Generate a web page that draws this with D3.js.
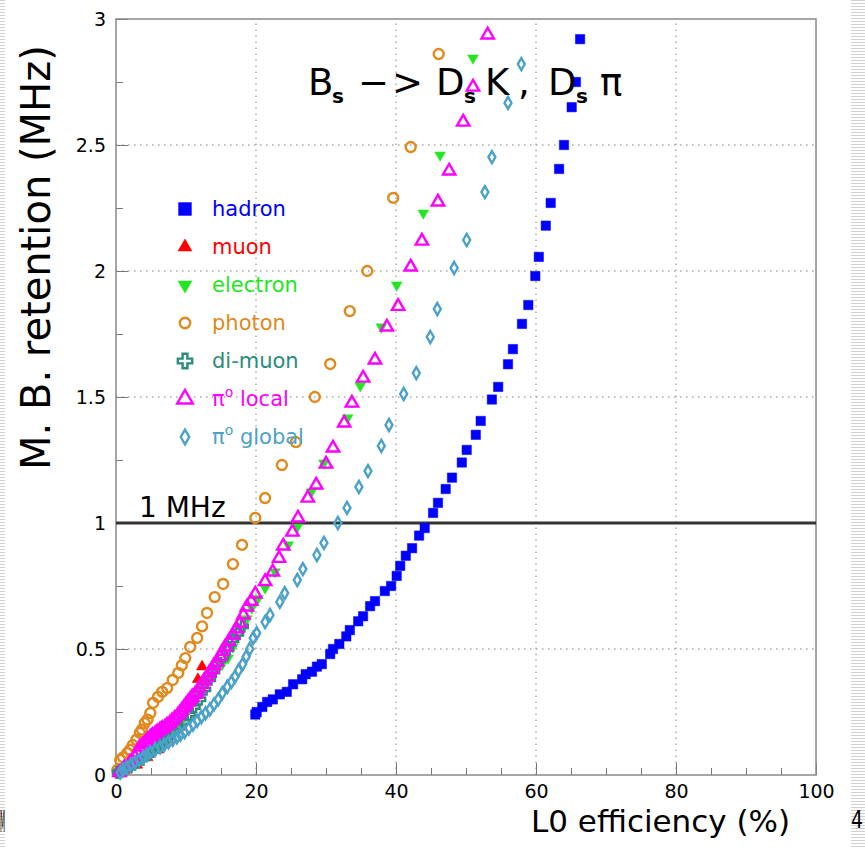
<!DOCTYPE html>
<html>
<head>
  <script src="https://cdn.jsdelivr.net/npm/d3@7/dist/d3.min.js" charset="utf-8"></script>
  <style>
    body { margin: 0; background: #fff; }
    text { font-family: "DejaVu Sans", sans-serif; }
  </style>
</head>
<body>
  <script>

  var width = 865
  var height = 848

  // L0 efficiency (%) vs minimum bias retention (MHz)
  var hadron = [[19.9,0.24],[20.1,0.25],[20.9,0.27],[21.6,0.29],[22.4,0.30],[23.4,0.32],[24.4,0.33],[25.3,0.36],
    [26.6,0.38],[27.1,0.40],[28.0,0.41],[28.7,0.43],[29.4,0.44],[30.6,0.48],[31.0,0.50],[31.9,0.52],[32.9,0.55],
    [33.4,0.575],[34.6,0.61],[35.3,0.63],[36.3,0.67],[37.0,0.69],[38.4,0.73],[39.3,0.75],[40.1,0.79],[40.6,0.83],
    [41.4,0.87],[42.3,0.90],[43.3,0.95],[44.1,0.98],[45.3,1.04],[46.0,1.08],[47.1,1.135],[48.0,1.18],[49.4,1.24],
    [50.1,1.29],[51.4,1.35],[52.1,1.405],[53.7,1.49],[54.6,1.54],[56.0,1.63],[56.7,1.69],[58.0,1.79],[58.9,1.865],
    [59.9,1.98],[60.4,2.056],[61.4,2.18],[62.1,2.27],[63.3,2.405],[64.0,2.50],[65.1,2.65],[65.7,2.75],[66.3,2.92]];

  var muon = [[0.5,0.005],[1.5,0.02],[3.0,0.04],[4.5,0.07],[6.0,0.10],[7.5,0.14],[9.0,0.19],[10.5,0.26],
    [11.7,0.38],[12.3,0.43]];

  var electron = [[0.8,0.01],[1.4,0.02],[2.0,0.03],[2.8,0.045],[3.5,0.06],[4.2,0.075],[5.0,0.09],[5.8,0.11],
    [6.5,0.13],[7.2,0.15],[8.0,0.17],[8.8,0.195],[9.5,0.22],[10.0,0.245],[10.6,0.27],[11.2,0.30],[11.7,0.325],
    [12.4,0.345],[13.0,0.37],[13.6,0.395],[14.3,0.42],[15.2,0.44],[16.0,0.464],[16.7,0.508],[17.3,0.545],
    [18.0,0.58],[18.7,0.62],[19.4,0.663],[20.3,0.70],[21.3,0.742],[22.7,0.806],[24.6,0.913],[25.9,0.984],
    [27.9,1.123],[29.7,1.238],[33.1,1.417],[34.9,1.544],[37.9,1.778],[40.1,1.944],[43.9,2.23],[46.3,2.46],
    [51.0,2.845]];

  var photon = [[0.2,0.02],[0.6,0.06],[1.0,0.07],[1.6,0.087],[2.0,0.10],[2.4,0.119],[2.9,0.14],[3.4,0.167],
    [3.7,0.18],[4.1,0.206],[4.5,0.22],[4.9,0.246],[5.3,0.286],[6.0,0.31],[6.6,0.33],[7.3,0.345],[8.1,0.377],
    [8.9,0.405],[9.4,0.435],[9.9,0.464],[10.6,0.508],[11.6,0.544],[12.3,0.59],[13.0,0.643],[14.1,0.706],
    [15.3,0.758],[16.7,0.837],[18.0,0.913],[19.9,1.02],[21.3,1.099],[23.7,1.23],[25.7,1.321],[28.4,1.50],
    [30.6,1.631],[33.4,1.841],[35.9,2.00],[39.6,2.29],[42.1,2.492],[46.1,2.861]];

  var dimuon = [[0.3,0.01],[0.6,0.015],[1.0,0.02],[1.5,0.028],[2.0,0.035],[2.5,0.042],[3.0,0.05],[3.7,0.062],
    [4.5,0.08],[5.2,0.095],[6.0,0.11],[6.7,0.13],[7.5,0.15],[8.2,0.17],[9.0,0.19],[9.7,0.21],[10.5,0.24],
    [11.2,0.27],[12.0,0.30],[12.7,0.34],[13.4,0.38],[14.0,0.41],[14.5,0.44],[15.3,0.47],[16.0,0.50],
    [16.7,0.535],[17.4,0.56],[18.1,0.59]];

  var pi0local = [[0.5,0.01],[1.2,0.03],[2.0,0.05],[2.7,0.071],[3.0,0.09],[3.4,0.111],[3.8,0.12],[4.2,0.13],
    [4.5,0.14],[4.9,0.151],[5.2,0.158],[5.6,0.165],[5.9,0.172],[6.3,0.179],[6.6,0.185],[7.0,0.19],[7.3,0.198],
    [7.7,0.206],[8.0,0.215],[8.4,0.225],[8.8,0.236],[9.1,0.246],[9.4,0.257],[9.7,0.268],[10.0,0.28],[10.3,0.29],
    [10.6,0.30],[10.9,0.31],[11.3,0.32],[11.6,0.329],[11.9,0.345],[12.3,0.36],[12.6,0.375],[13.0,0.389],
    [13.3,0.405],[13.7,0.42],[14.0,0.435],[14.4,0.448],[14.9,0.47],[15.2,0.49],[15.6,0.508],[16.1,0.53],
    [16.7,0.556],[17.2,0.58],[17.7,0.603],[18.2,0.635],[18.7,0.667],[19.3,0.69],[19.9,0.718],[21.3,0.768],
    [22.4,0.806],[23.3,0.86],[23.9,0.909],[25.2,0.964],[26.0,1.02],[27.4,1.099],[28.6,1.151],[30.0,1.234],
    [31.0,1.298],[32.6,1.397],[33.7,1.476],[35.3,1.575],[37.0,1.647],[38.7,1.778],[40.3,1.86],[42.1,2.016],
    [43.7,2.119],[46.0,2.274],[47.6,2.397],[49.6,2.591],[51.0,2.73],[53.1,2.937]];

  var pi0global = [[0.6,0.01],[1.0,0.02],[1.5,0.03],[2.1,0.04],[2.7,0.05],[3.3,0.06],[3.9,0.07],[4.4,0.08],
    [4.9,0.09],[5.6,0.10],[6.3,0.11],[6.9,0.12],[7.5,0.13],[8.1,0.14],[8.7,0.15],[9.2,0.16],[9.8,0.17],
    [10.4,0.185],[11.0,0.20],[11.6,0.215],[12.2,0.23],[12.8,0.245],[13.4,0.26],[14.0,0.28],[14.6,0.30],
    [15.2,0.325],[15.9,0.35],[16.5,0.37],[17.0,0.39],[17.5,0.415],[18.1,0.44],[18.6,0.47],[19.1,0.50],
    [19.6,0.544],[20.1,0.563],[21.3,0.607],[22.0,0.635],[23.4,0.687],[24.1,0.722],[25.9,0.774],[26.7,0.817],
    [28.7,0.873],[29.7,0.921],[31.7,1.00],[33.0,1.06],[34.7,1.143],[36.0,1.206],[37.9,1.306],[39.0,1.389],
    [41.1,1.512],[42.9,1.595],[44.9,1.738],[45.9,1.849],[48.3,2.012],[50.1,2.123],[52.7,2.313],[53.7,2.452],
    [56.0,2.667],[57.9,2.821]];

  var xTicks = [0, 20, 40, 60, 80, 100];
  var yTicks = [0, 0.5, 1, 1.5, 2, 2.5, 3];

  var series = [
    {name: "hadron",  data: hadron,    color: "#0000ff", shape: d3.symbolSquare,   size: 88, lsize: 165, filled: true},
    {name: "muon",    data: muon,      color: "#ff0000", shape: d3.symbolTriangle, size: 56, lsize: 85,  filled: true},
    {name: "electron",data: electron,  color: "#22e622", shape: d3.symbolTriangle, size: 50, lsize: 85,  filled: true, rot: 180},
    {name: "photon",  data: photon,    color: "#e0891c", shape: d3.symbolCircle,   size: 78, lsize: 85,  filled: false},
    {name: "di-muon", data: dimuon,    color: "#2a8c7c", shape: d3.symbolCross,    size: 60, lsize: 115, filled: false},
    {name: "local",   data: pi0local,  color: "#ff00ff", shape: d3.symbolTriangle, size: 66, lsize: 105, filled: false, pi: true},
    {name: "global",  data: pi0global, color: "#4aa2c8", shape: d3.symbolDiamond,  size: 42, lsize: 62,  filled: false, pi: true}
  ];

  var x = d3.scaleLinear().domain([0, 100]).range([116, 816]);
  var y = d3.scaleLinear().domain([0, 3]).range([775, 19]);

  var svg = d3.select("body").append("svg")
    .attr("width", width)
    .attr("height", height);

  // slide edge stripes
  var defs = svg.append("defs");
  defs.append("pattern").attr("id", "stripes")
    .attr("width", 4).attr("height", 3).attr("patternUnits", "userSpaceOnUse")
    .append("rect").attr("width", 4).attr("height", 1).attr("fill", "#cfcfcf");
  svg.append("rect").attr("x", 0).attr("y", 0).attr("width", 5).attr("height", height).attr("fill", "url(#stripes)");
  svg.append("rect").attr("x", 851).attr("y", 0).attr("width", 14).attr("height", height).attr("fill", "url(#stripes)");
  svg.append("text").attr("x", 0).attr("y", 832).attr("font-size", 30)
    .attr("textLength", 5).attr("lengthAdjust", "spacingAndGlyphs").text("M");
  svg.append("text").attr("x", 851).attr("y", 828).attr("font-size", 24)
    .attr("textLength", 12).attr("lengthAdjust", "spacingAndGlyphs").text("4");

  // grid
  var grid = svg.append("g").attr("stroke", "#aaa").attr("stroke-width", 1.5).attr("stroke-dasharray", "1.5,4.5");
  grid.selectAll(".gx").data(xTicks.slice(1, -1)).enter().append("line")
    .attr("x1", function(d) { return x(d); }).attr("x2", function(d) { return x(d); })
    .attr("y1", y(0)).attr("y2", y(3));
  grid.selectAll(".gy").data(yTicks.slice(1, -1)).enter().append("line")
    .attr("x1", x(0)).attr("x2", x(100))
    .attr("y1", function(d) { return y(d); }).attr("y2", function(d) { return y(d); });

  // minor ticks
  svg.append("g").attr("transform", "translate(0," + y(0) + ")")
    .call(d3.axisBottom(x).tickValues(d3.range(0, 101, 5)).tickSize(-7).tickFormat(""))
    .call(function(g) { g.select(".domain").remove(); g.selectAll("line").attr("stroke", "#777"); });
  svg.append("g").attr("transform", "translate(" + x(0) + ",0)")
    .call(d3.axisLeft(y).tickValues(d3.range(0, 3.01, 0.25)).tickSize(-7).tickFormat(""))
    .call(function(g) { g.select(".domain").remove(); g.selectAll("line").attr("stroke", "#777"); });

  // major ticks + labels
  svg.append("g").attr("transform", "translate(0," + y(0) + ")")
    .call(d3.axisBottom(x).tickValues(xTicks).tickSize(-12).tickPadding(10).tickFormat(d3.format("d")))
    .call(function(g) {
      g.select(".domain").remove();
      g.selectAll("line").attr("stroke", "#777");
      g.selectAll("text").attr("font-size", 19).attr("fill", "#000").attr("font-family", "DejaVu Sans");
    });
  svg.append("g").attr("transform", "translate(" + x(0) + ",0)")
    .call(d3.axisLeft(y).tickValues(yTicks).tickSize(-12).tickPadding(10).tickFormat(function(d) { return String(d); }))
    .call(function(g) {
      g.select(".domain").remove();
      g.selectAll("line").attr("stroke", "#777");
      g.selectAll("text").attr("font-size", 19).attr("fill", "#000").attr("font-family", "DejaVu Sans");
    });

  // frame
  svg.append("rect").attr("x", x(0)).attr("y", y(3))
    .attr("width", x(100) - x(0)).attr("height", y(0) - y(3))
    .attr("fill", "none").attr("stroke", "#888").attr("stroke-width", 1.5);

  // 1 MHz line
  svg.append("line").attr("x1", x(0)).attr("x2", x(100))
    .attr("y1", y(1)).attr("y2", y(1)).attr("stroke", "#333").attr("stroke-width", 3);
  svg.append("text").attr("x", 139).attr("y", 517).attr("font-size", 28).text("1 MHz");

  // markers
  function drawMarker(sel, s, size) {
    sel.attr("d", d3.symbol().type(s.shape).size(size))
      .attr("fill", s.filled ? s.color : "none")
      .attr("stroke", s.color)
      .attr("stroke-width", s.filled ? 0.5 : 2.4);
  }

  series.forEach(function(s) {
    svg.append("g").selectAll("path")
      .data(s.data).enter()
      .append("path")
      .attr("transform", function(d) {
        return "translate(" + x(d[0]) + "," + y(d[1]) + ")" + (s.rot ? " rotate(" + s.rot + ")" : "");
      })
      .call(drawMarker, s, s.size);
  });

  // legend
  var legend = svg.append("g");
  series.forEach(function(s, i) {
    var ly = 209 + i * 38;
    legend.append("path")
      .attr("transform", "translate(185," + ly + ")" + (s.rot ? " rotate(" + s.rot + ")" : ""))
      .call(drawMarker, s, s.lsize);
    var t = legend.append("text").attr("x", 212).attr("y", ly + 7)
      .attr("font-size", 21).attr("fill", s.color);
    if (s.pi) {
      t.append("tspan").text("\u03c0");
      t.append("tspan").attr("dy", -9).attr("font-size", 14).text("o");
      t.append("tspan").attr("dy", 9).text(" " + s.name);
    } else {
      t.text(s.name);
    }
  });

  // title  B_s -> D_s K , D_s pi
  var title = svg.append("text").attr("y", 95).attr("font-size", 37);
  var parts = [
    ["B", 308, 0], ["s", 332, 1], ["\u2212", 358, 0], [">", 392, 0], ["D", 436, 0], ["s", 464, 1],
    ["K", 485, 0], [",", 518, 0], ["D", 548, 0], ["s", 576, 1], ["\u03c0", 600, 0]
  ];
  parts.forEach(function(p) {
    title.append("tspan").attr("x", p[1]).attr("y", p[2] ? 103 : 95)
      .attr("font-size", p[2] ? 20 : 37).attr("font-weight", p[2] ? "bold" : "normal")
      .text(p[0]);
  });

  // axis titles
  svg.append("text").attr("x", 531).attr("y", 832).attr("font-size", 31).text("L0 efficiency (%)");
  svg.append("text").attr("transform", "translate(50,470) rotate(-90)")
    .attr("font-size", 40).text("M. B. retention (MHz)");

  </script>

</body>
</html>
